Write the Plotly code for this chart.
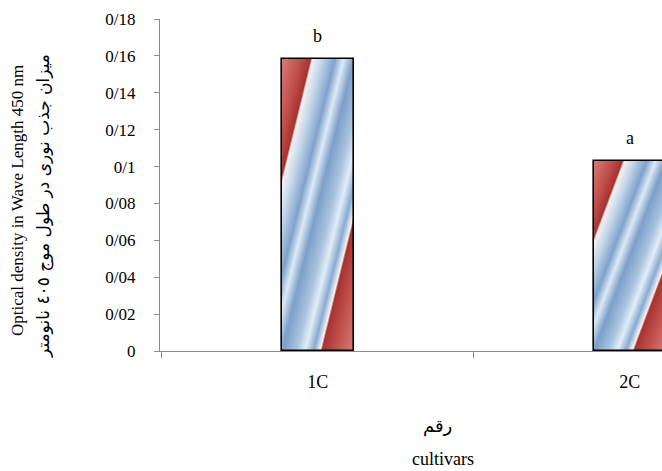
import base64
import plotly.graph_objects as go

# ---- data ----
categories = ["1C", "2C"]
values = [0.1585, 0.1032]
letters = ["b", "a"]
ytick_vals = [0, 0.02, 0.04, 0.06, 0.08, 0.10, 0.12, 0.14, 0.16, 0.18]
ytick_text = ["0", "0/02", "0/04", "0/06", "0/08", "0/1", "0/12", "0/14", "0/16", "0/18"]
y_title_en = "Optical density in Wave Length 450 nm"
y_title_fa = "میزان جذب نوری در طول موج ٤٠٥ نانومتر"
x_title_fa = "رقم"
x_title_en = "cultivars"

# ---- style ----
BAR_W = 0.23
SERIF = "Liberation Serif, Times New Roman, serif"
AXIS_COL = "#8c8c8c"

stops = [
    (0.00, "#d67c78"), (0.12, "#c3514d"), (0.200, "#a6332f"), (0.213, "#f7f0f0"),
    (0.28, "#c3d6ea"), (0.37, "#7fa2cb"), (0.43, "#dce9f6"), (0.50, "#7c9fc9"),
    (0.60, "#a9c3df"), (0.66, "#e2edf7"), (0.72, "#88aad1"), (0.765, "#f7f4f4"),
    (0.778, "#a6332f"), (0.88, "#c4524e"), (1.00, "#d67c78"),
]
stop_xml = "".join(f'<stop offset="{o}" stop-color="{c}"/>' for o, c in stops)
svg = (
    '<svg xmlns="http://www.w3.org/2000/svg" width="100" height="100" '
    'viewBox="0 0 100 100" preserveAspectRatio="none">'
    f'<defs><linearGradient id="g" x1="0" y1="0" x2="1" y2="1">{stop_xml}</linearGradient></defs>'
    '<rect x="0" y="0" width="100" height="100" fill="url(#g)"/></svg>'
)
src = "data:image/svg+xml;base64," + base64.b64encode(svg.encode("utf-8")).decode("ascii")

fig = go.Figure()
fig.add_trace(go.Bar(
    x=categories, y=values, width=BAR_W,
    marker=dict(color="rgba(0,0,0,0)", line=dict(color="black", width=1.6)),
    hoverinfo="skip", showlegend=False,
))

images = [
    dict(source=src, xref="x", yref="y", x=i - BAR_W / 2, y=v,
         sizex=BAR_W, sizey=v, sizing="stretch",
         xanchor="left", yanchor="top", layer="below")
    for i, v in enumerate(values)
]

annotations = [
    dict(x=c, y=v, xref="x", yref="y", text=t, showarrow=False,
         yanchor="middle", yshift=23, font=dict(family=SERIF, size=18, color="black"))
    for c, v, t in zip(categories, values, letters)
]

L, T, W, H = 160, 19, 502, 332
def px(xp):
    return (xp - L) / W
def py(yp):
    return (T + H - yp) / H

annotations += [
    dict(xref="paper", yref="paper", x=px(18), y=py(201), text=y_title_en,
         textangle=-90, showarrow=False, xanchor="center", yanchor="middle",
         font=dict(family=SERIF, size=17, color="black")),
    dict(xref="paper", yref="paper", x=px(43), y=py(206), text=y_title_fa,
         textangle=-90, showarrow=False, xanchor="center", yanchor="middle",
         font=dict(family="DejaVu Sans, sans-serif", size=17, color="black")),
    dict(xref="paper", yref="paper", x=px(437), y=py(426), text=x_title_fa,
         showarrow=False, xanchor="center", yanchor="middle",
         font=dict(family="DejaVu Sans, sans-serif", size=18, color="black")),
    dict(xref="paper", yref="paper", x=px(443), y=py(459), text=x_title_en,
         showarrow=False, xanchor="center", yanchor="middle",
         font=dict(family=SERIF, size=18, color="black")),
]

fig.update_layout(
    width=662, height=471,
    margin=dict(l=L, r=662 - L - W, t=T, b=471 - T - H, pad=0),
    paper_bgcolor="white", plot_bgcolor="rgba(0,0,0,0)",
    images=images, annotations=annotations,
    bargap=0,
)
fig.update_xaxes(
    type="category", range=[-0.506, 1.103],
    showline=True, linecolor=AXIS_COL, linewidth=1,
    ticks="outside", tickson="boundaries", ticklen=6, tickcolor=AXIS_COL,
    tickfont=dict(family=SERIF, size=18, color="black"),
    ticklabelstandoff=14,
    showgrid=False, zeroline=False,
)
fig.update_yaxes(
    range=[0, 0.18],
    showline=True, linecolor=AXIS_COL, linewidth=1,
    ticks="outside", ticklen=5, tickcolor=AXIS_COL,
    tickvals=ytick_vals, ticktext=ytick_text,
    tickfont=dict(family=SERIF, size=17, color="black"),
    ticklabelstandoff=15,
    showgrid=False, zeroline=False,
)

fig.write_html("out.html", config={"displayModeBar": False},
               post_script="document.body.style.margin='0';")
